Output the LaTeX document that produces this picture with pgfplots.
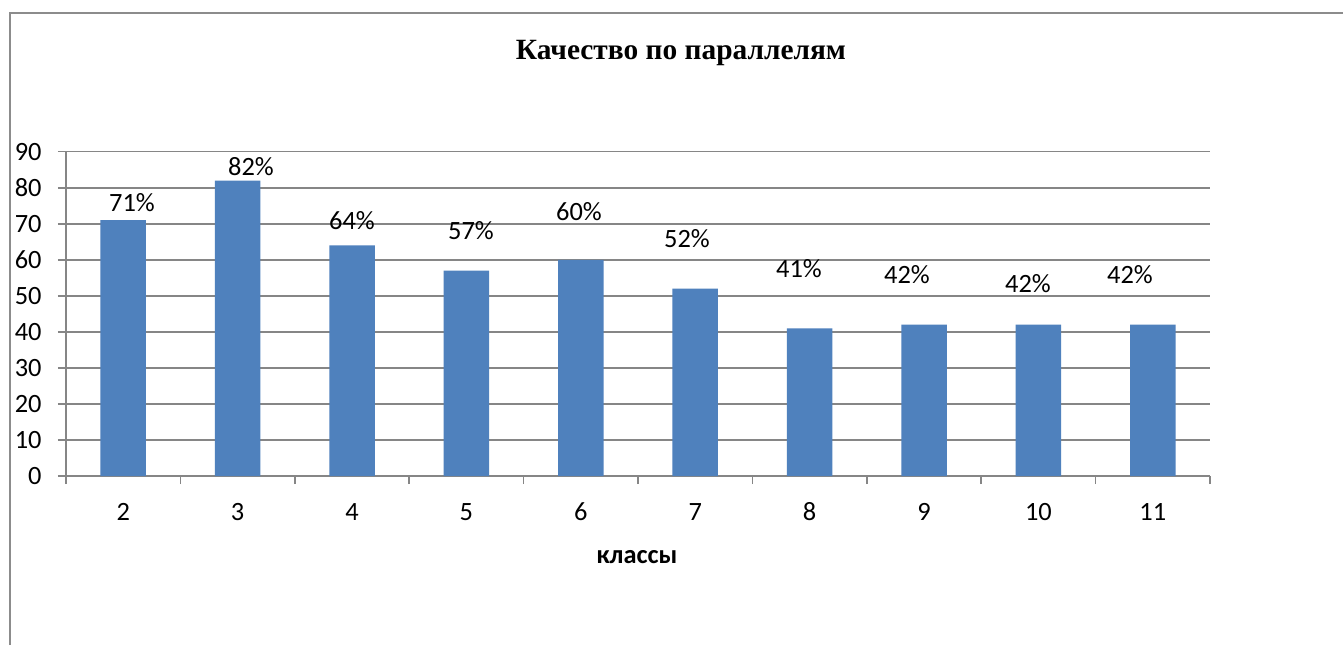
\documentclass[border=0pt]{standalone}
\usepackage{pgfplots}
\pgfplotsset{compat=1.18}
\usepackage{fontspec}
\setmainfont{Carlito}
\newfontfamily\titlefont{Liberation Serif}
\definecolor{barblue}{HTML}{4F81BD}
\definecolor{gridgray}{HTML}{868686}
\definecolor{framegray}{HTML}{8C8C8C}
\begin{document}
\begin{tikzpicture}
\useasboundingbox (0,0) rectangle (671.5pt,-322.5pt);
\fill[white] (0,0) rectangle (671.5pt,-322.5pt);
\draw[framegray, line width=1pt] (5pt,-322.5pt) -- (5pt,-6.5pt) -- (671.5pt,-6.5pt);
\begin{axis}[
  at={(33pt,-238pt)}, anchor=south west,
  scale only axis, width=572pt, height=162.15pt,
  font=\fontsize{13.2pt}{15.5pt}\selectfont,
  /pgf/number format/assume math mode=true,
  xmin=-0.5, xmax=9.5, ymin=0, ymax=90,
  axis x line=bottom, axis y line=left,
  axis line style={gridgray, line width=0.75pt, -},
  ytick={0,10,...,90},
  ymajorgrids, grid style={gridgray, line width=0.75pt},
  tick align=outside,
  major tick length=4pt,
  tick style={gridgray, line width=0.75pt},
  xtick={-0.5,0.5,...,9.5}, xticklabels={},
  extra x ticks={0,1,...,9},
  extra x tick labels={2,3,4,5,6,7,8,9,10,11},
  extra x tick style={major tick length=0pt, grid=none,
     xticklabel style={anchor=center, inner sep=0pt, yshift=-18pt}},
  yticklabel style={anchor=east, inner sep=0pt, xshift=-8pt},
  clip=false,
  xlabel={\bfseries классы},
  xlabel style={at={(axis description cs:0.4991,-0.2683)}, anchor=base, inner sep=0pt},
  title={\titlefont\bfseries\fontsize{14.7pt}{17pt}\selectfont Качество по параллелям},
  title style={at={(axis description cs:0.5376,1.2479)}, anchor=base, inner sep=0pt},
]
\addplot[ybar, bar width=22.75pt, fill=barblue, draw=none] table[x=x, y=y] {
x y
0 71
1 82
2 64
3 57
4 60
5 52
6 41
7 42
8 42
9 42
};
\addplot[draw=none, mark=none, nodes near coords={\pgfplotspointmeta\%},
  point meta=explicit symbolic,
  every node near coord/.append style={anchor=center, inner sep=0pt, yshift=0pt, text=black}]
  table[x=x, y=y, meta=v] {
x y v
0.077 76.0 71
1.117 86.0 82
2.0 71.0 64
3.04 68.0 57
3.984 73.5 60
4.928 66.0 52
5.907 57.7 41
6.851 55.8 42
7.909 53.3 42
8.80 55.8 42
};
\end{axis}
\end{tikzpicture}
\end{document}
